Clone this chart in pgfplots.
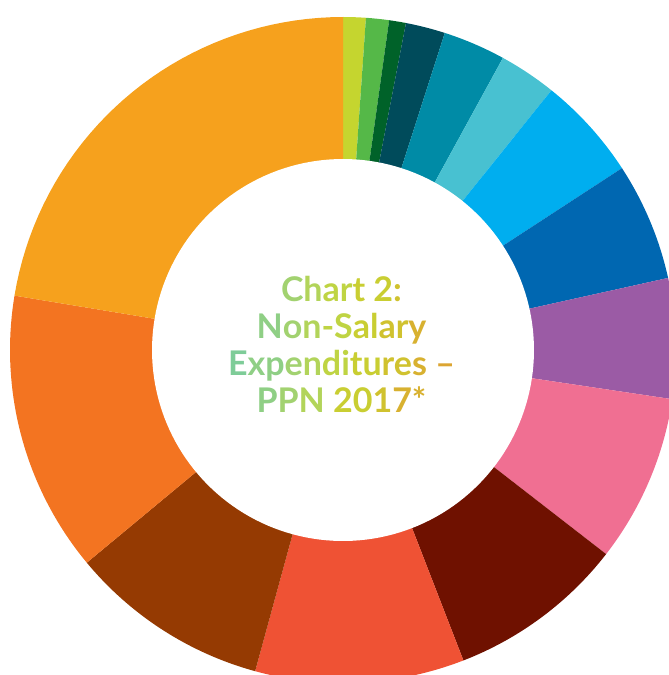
\documentclass[border=0pt]{standalone}
\usepackage{pgfplots}
\pgfplotsset{compat=1.18}
\usepackage{fontspec}
\setmainfont{Lato}
% slice colours
\definecolor{s1}{HTML}{C5D52F}
\definecolor{s2}{HTML}{55B848}
\definecolor{s3}{HTML}{006229}
\definecolor{s4}{HTML}{004B5B}
\definecolor{s5}{HTML}{008BA6}
\definecolor{s6}{HTML}{48C1D1}
\definecolor{s7}{HTML}{00AEEF}
\definecolor{s8}{HTML}{0067B1}
\definecolor{s9}{HTML}{9B5BA5}
\definecolor{s10}{HTML}{F06F92}
\definecolor{s11}{HTML}{6F1100}
\definecolor{s12}{HTML}{EF5234}
\definecolor{s13}{HTML}{953A02}
\definecolor{s14}{HTML}{F37421}
\definecolor{s15}{HTML}{F6A11D}
% title gradient stops
\definecolor{t1}{HTML}{7ECC98}
\definecolor{t2}{HTML}{8FCF85}
\definecolor{t3}{HTML}{A2D270}
\definecolor{t4}{HTML}{B2D45A}
\definecolor{t5}{HTML}{BFD443}
\definecolor{t6}{HTML}{C9CE32}
\definecolor{t7}{HTML}{D0C22F}
\definecolor{t8}{HTML}{D8B130}
\definecolor{t9}{HTML}{DCA532}
\newcommand{\cc}[2]{\textcolor{#1}{#2}}
% slice: start angle, end angle (degrees clockwise from 12 o'clock), colour
\newcommand{\slice}[3]{%
  \addplot[fill=#3, draw=none, domain=#1:#2, samples=40]
    ({333*sin(x)},{333*cos(x)}) -- (axis cs:0,0) -- cycle;}
\begin{document}
\begin{tikzpicture}
\begin{axis}[
  x=0.5pt, y=0.5pt,
  xmin=-343, xmax=326, ymin=-325, ymax=350,
  enlargelimits=false,
  hide axis, clip=true,
  anchor=south west, at={(0,0)},
]
% shares (degrees): 3.95, 4.02, 2.93, 6.9, 10.9, 10.05, 18.15, 20.6, 21.0, 29.3, 31.0, 36.5, 35.0, 49.1, 80.6
\slice{0}{3.95}{s1}
\slice{3.95}{7.97}{s2}
\slice{7.97}{10.9}{s3}
\slice{10.9}{17.8}{s4}
\slice{17.8}{28.7}{s5}
\slice{28.7}{38.75}{s6}
\slice{38.75}{56.9}{s7}
\slice{56.9}{77.5}{s8}
\slice{77.5}{98.5}{s9}
\slice{98.5}{127.8}{s10}
\slice{127.8}{158.8}{s11}
\slice{158.8}{195.3}{s12}
\slice{195.3}{230.3}{s13}
\slice{230.3}{279.4}{s14}
\slice{279.4}{360}{s15}
\addplot[fill=white, draw=none, domain=0:360, samples=180]
  ({191*sin(x)},{191*cos(x)}) -- cycle;
\node[align=center, inner sep=0pt, font=\bfseries\fontsize{17}{18.5}\selectfont]
  at (axis cs:-1.5,5) {%
  \cc{t3}{C}\cc{t4}{h}\cc{t5}{ar}\cc{t6}{t 2}\cc{t7}{:}\\
  \cc{t2}{N}\cc{t3}{o}\cc{t4}{n}\cc{t5}{-S}\cc{t6}{al}\cc{t7}{ar}\cc{t8}{y}\\
  \cc{t1}{E}\cc{t2}{xp}\cc{t3}{e}\cc{t4}{n}\cc{t5}{di}\cc{t6}{tu}\cc{t7}{re}\cc{t8}{s} \cc{t9}{–}\\
  \cc{t2}{P}\cc{t3}{P}\cc{t4}{N} \cc{t6}{20}\cc{t7}{1}\cc{t8}{7*}};
\end{axis}
\pgfresetboundingbox
\useasboundingbox (current axis.south west) rectangle (current axis.north east);
\end{tikzpicture}
\end{document}
